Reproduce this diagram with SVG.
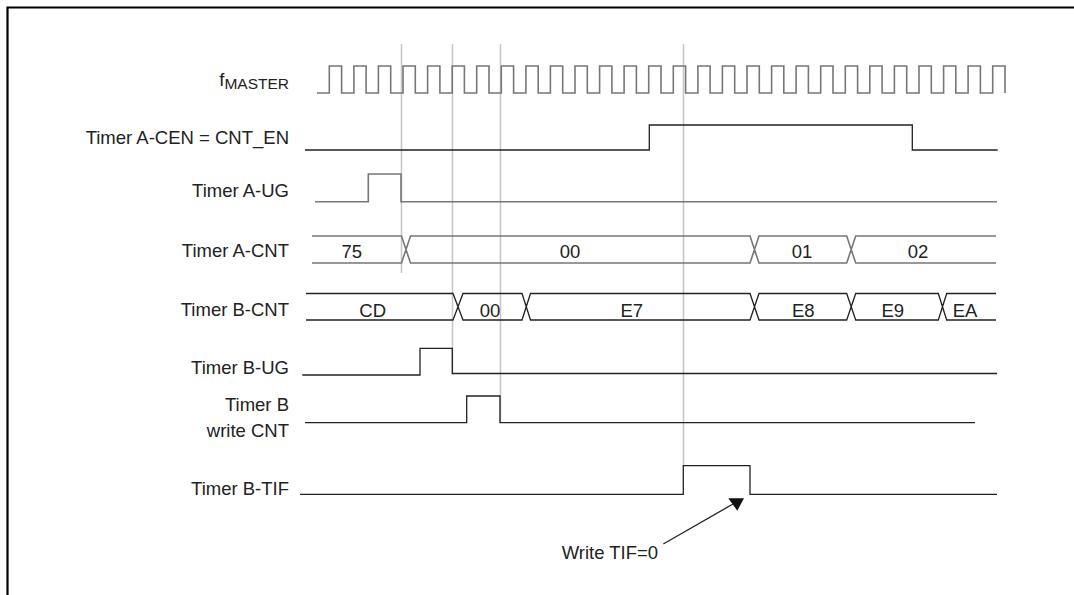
<svg xmlns="http://www.w3.org/2000/svg" width="1074" height="595" viewBox="0 0 1074 595">
<style>
text{font-family:"Liberation Sans",Arial,sans-serif;font-size:18.5px;fill:#222}
.lbl{text-anchor:end}
.val{text-anchor:middle}
.sig{fill:none;stroke:#222;stroke-width:1.3}
.sg{fill:none;stroke:#777;stroke-width:1.6}
.guide{fill:none;stroke:#c8c8c8;stroke-width:1.6}
.frame{fill:none;stroke:#000;stroke-width:2.2}
</style>
<rect width="1074" height="595" fill="#fff"/>
<path class="frame" d="M7.5,595 V7.5 H1074"/>
<g id="guides">
<path class="guide" d="M401.5,44 V273 M452.5,44 V374 M500.5,44 V423 M683.5,44 V466"/>
</g>
<g id="fmaster">
<text class="lbl" x="289" y="86">f<tspan font-size="15.5" dy="3">MASTER</tspan></text>
<path class="sg" d="M317,93 H329.3 V66 H341.6 V93 H353.9 V66 H366.1 V93 H378.4 V66 H390.7 V93 H403 V66 H415.3 V93 H427.6 V66 H439.9 V93 H452.2 V66 H464.4 V93 H476.7 V66 H489 V93 H501.3 V66 H513.6 V93 H525.9 V66 H538.2 V93 H550.4 V66 H562.7 V93 H575 V66 H587.3 V93 H599.6 V66 H611.9 V93 H624.1 V66 H636.4 V93 H648.7 V66 H661 V93 H673.3 V66 H685.6 V93 H697.9 V66 H710.1 V93 H722.4 V66 H734.7 V93 H747 V66 H759.3 V93 H771.6 V66 H783.8 V93 H796.1 V66 H808.4 V93 H820.7 V66 H833 V93 H845.3 V66 H857.6 V93 H869.8 V66 H882.1 V93 H894.4 V66 H906.7 V93 H919 V66 H931.3 V93 H943.6 V66 H955.8 V93 H968.1 V66 H980.4 V93 H992.7 V66 H1005 V93"/>
</g>
<g id="timer-a-cen">
<text class="lbl" x="289" y="144">Timer A-CEN = CNT_EN</text>
<path class="sig" d="M305,150 H649.3 V125 H912.3 V150 H997.7"/>
</g>
<g id="timer-a-ug">
<text class="lbl" x="289" y="197">Timer A-UG</text>
<path class="sg" d="M315,201.7 H368.3 V174 H401 V201.7 H997"/>
</g>
<g id="timer-a-cnt">
<text class="lbl" x="289" y="257">Timer A-CNT</text>
<path class="sg" d="M312,236 H401.5 L410.5,263 H750 L759,236 H846.7 L855.7,263 H996 M312,263 H401.5 L410.5,236 H750 L759,263 H846.7 L855.7,236 H996"/>
<text class="val" x="351.7" y="258">75</text>
<text class="val" x="570" y="258">00</text>
<text class="val" x="802" y="258">01</text>
<text class="val" x="918" y="258">02</text>
</g>
<g id="timer-b-cnt">
<text class="lbl" x="289" y="316">Timer B-CNT</text>
<path class="sig" d="M306,293.5 H453 L463,320 H522 L530.5,293.5 H750 L759,320 H846.7 L855.7,293.5 H938.3 L946.7,320 H996 M306,320 H453 L463,293.5 H522 L530.5,320 H750 L759,293.5 H846.7 L855.7,320 H938.3 L946.7,293.5 H996"/>
<text class="val" x="372.7" y="317">CD</text>
<text class="val" x="490" y="317">00</text>
<text class="val" x="631.7" y="317">E7</text>
<text class="val" x="803.3" y="317">E8</text>
<text class="val" x="892.7" y="317">E9</text>
<text class="val" x="965" y="317">EA</text>
</g>
<g id="timer-b-ug">
<text class="lbl" x="289" y="374">Timer B-UG</text>
<path class="sig" d="M302.3,375 H420 V348.3 H452.3 V373.5 H997"/>
</g>
<g id="timer-b-write-cnt">
<text class="lbl" x="289" y="411">Timer B</text>
<text class="lbl" x="289" y="437">write CNT</text>
<path class="sig" d="M305,422.7 H466.7 V396 H500 V422.7 H975"/>
</g>
<g id="timer-b-tif">
<text class="lbl" x="289" y="495">Timer B-TIF</text>
<path class="sig" d="M300,494.3 H683.3 V465.7 H750 V494.3 H997"/>
</g>
<g id="connectors">
<path class="sig" d="M663.3,544 L733,504"/>
<polygon points="728.3,498.3 744,498.3 737.3,510.7" fill="#111"/>
</g>
<g id="note">
<text x="561.7" y="559.3">Write TIF=0</text>
</g>
</svg>
